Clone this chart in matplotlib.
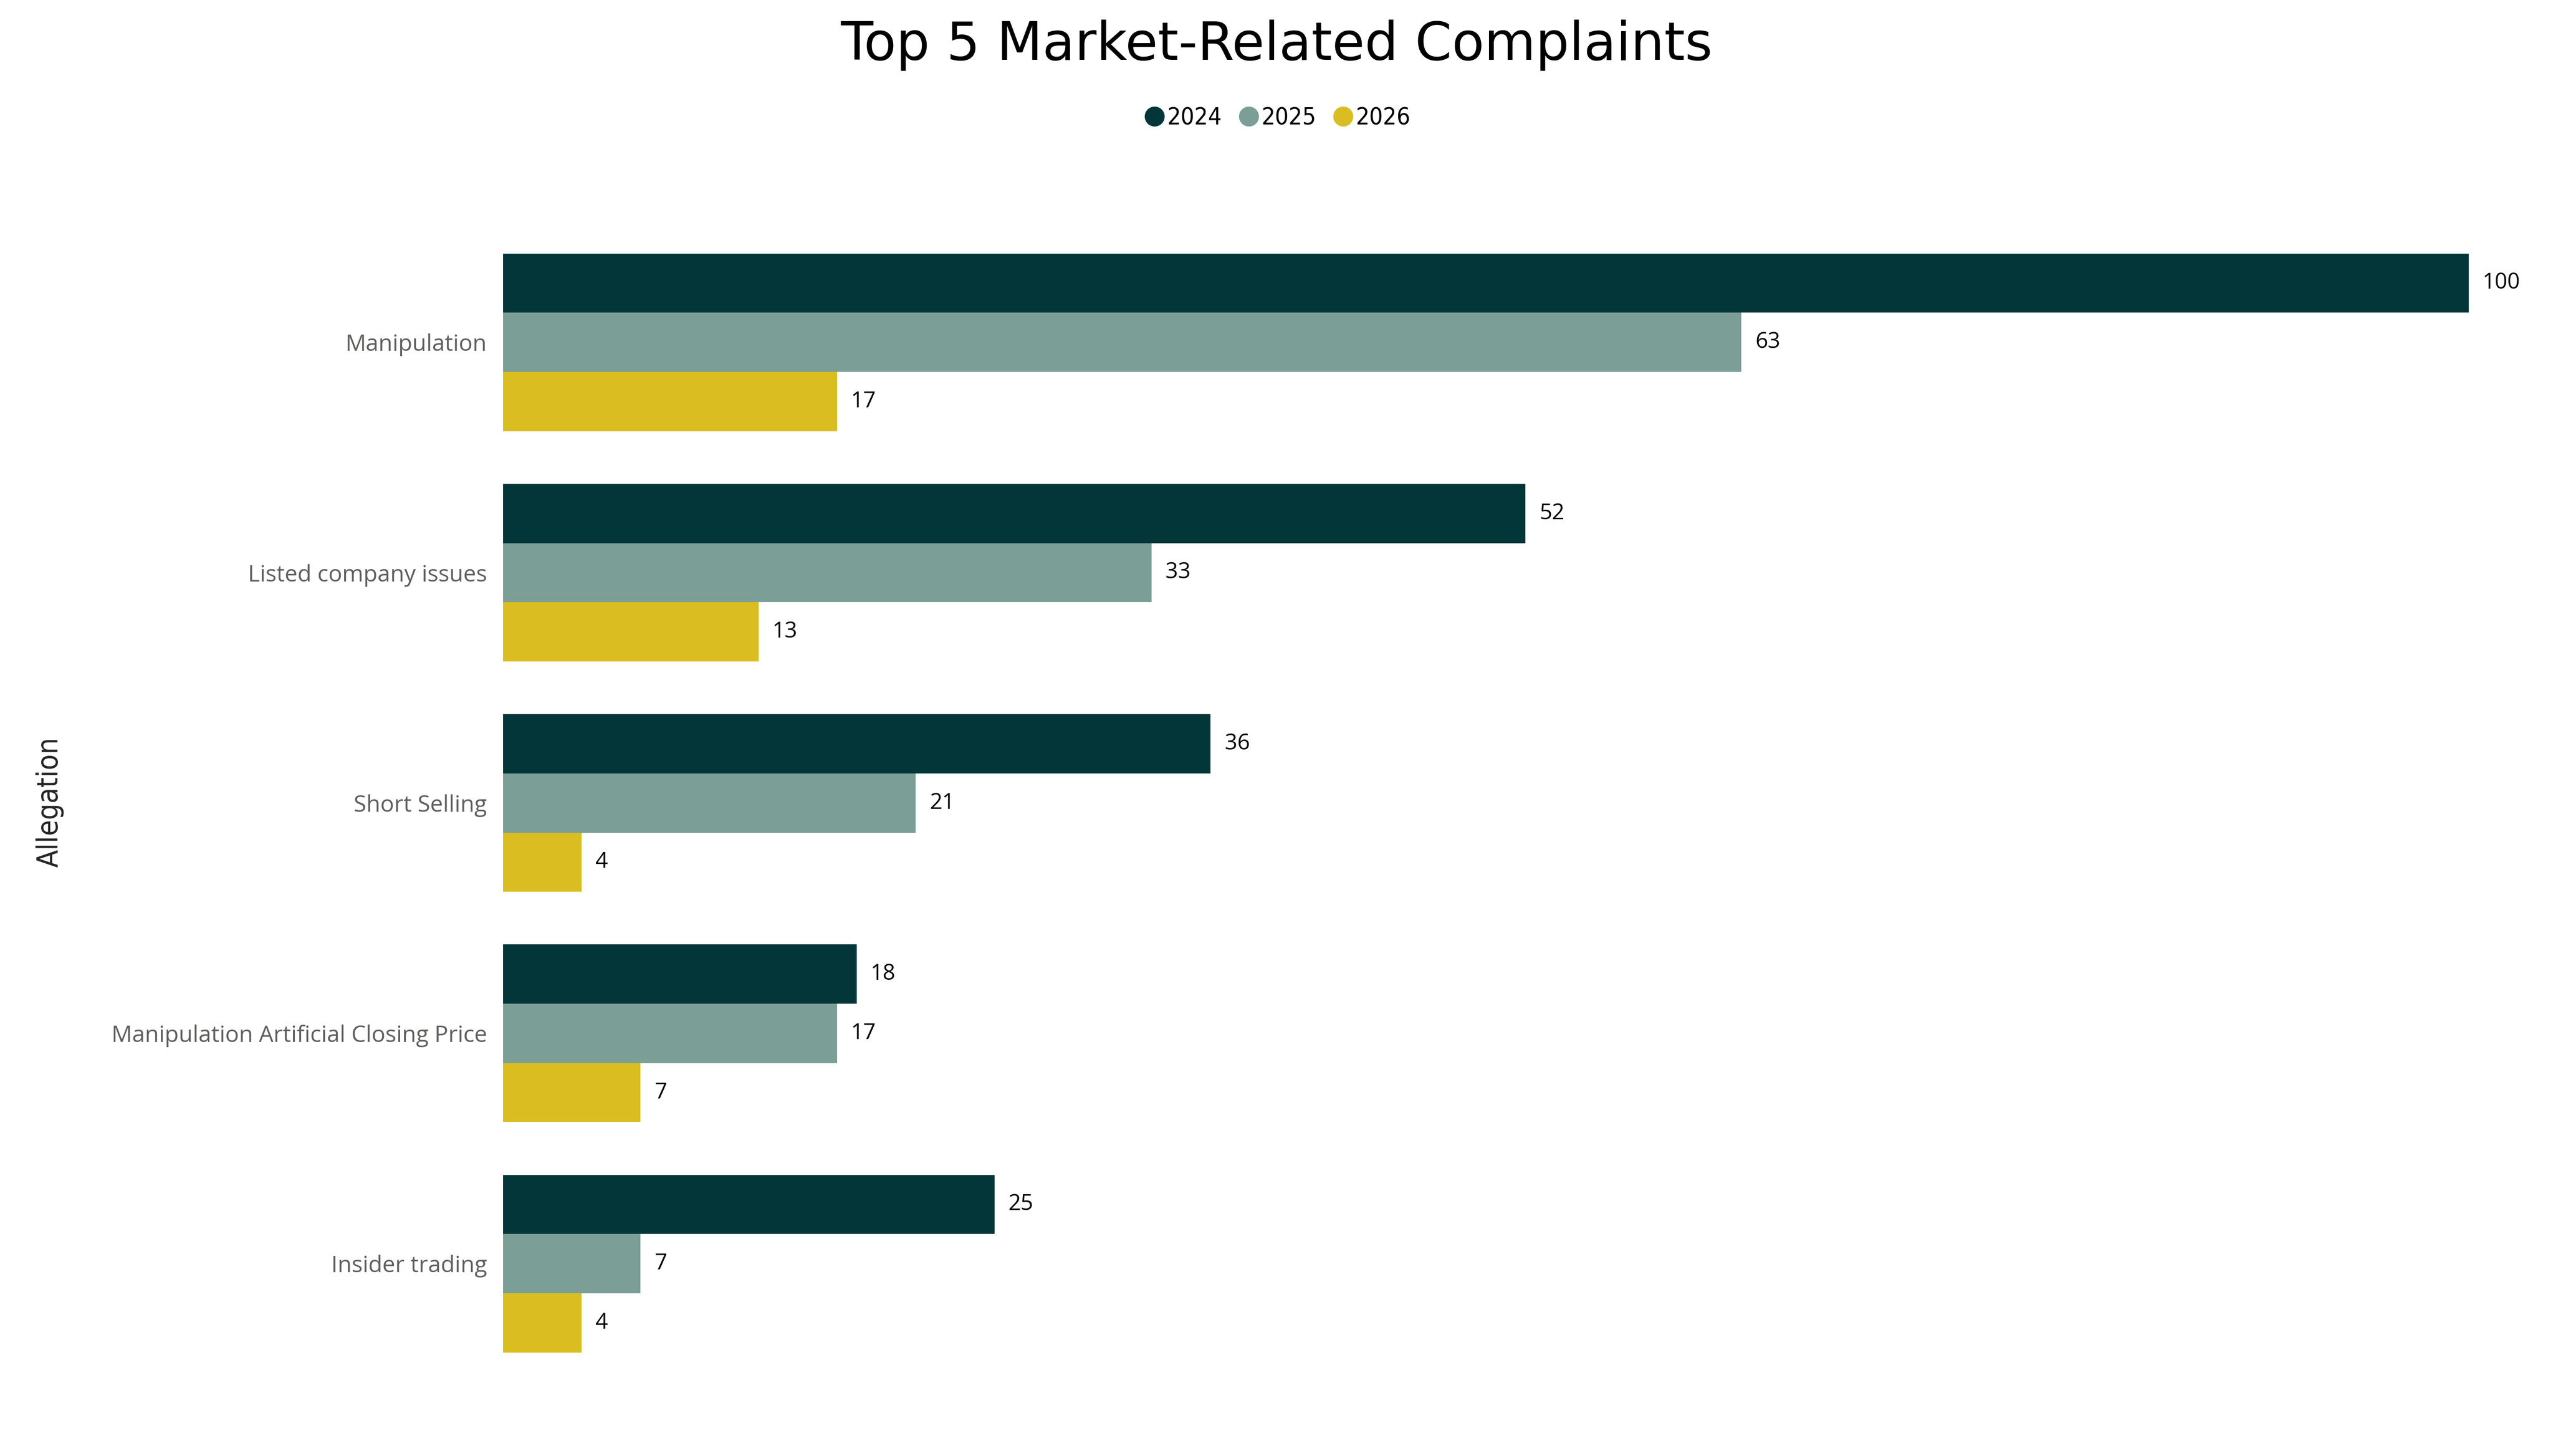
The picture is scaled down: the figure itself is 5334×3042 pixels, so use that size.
import matplotlib
matplotlib.use("Agg")
import matplotlib.pyplot as plt
from matplotlib.lines import Line2D
import numpy as np

# values
allegations = [
    "Manipulation",
    "Listed company issues",
    "Short Selling",
    "Manipulation Artificial Closing Price",
    "Insider trading",
]
years = ["2024", "2025", "2026"]
counts_2024 = [100, 52, 36, 18, 25]
counts_2025 = [63, 33, 21, 17, 7]
counts_2026 = [17, 13, 4, 7, 4]

colors = ["#023638", "#7B9E96", "#DABD20"]
label_font = ["Open Sans", "DejaVu Sans"]

fig = plt.figure(figsize=(5334 / 300, 3042 / 300), dpi=300)
ax = fig.add_axes([0.197, 0.053, 0.770, 0.791])

y = np.arange(len(allegations))
bar_h = 0.257
series = [counts_2024, counts_2025, counts_2026]

for i, (vals, col) in enumerate(zip(series, colors)):
    pos = y + (i - 1) * bar_h
    ax.barh(pos, vals, height=bar_h, color=col, linewidth=0)
    for p, v in zip(pos, vals):
        ax.annotate(str(v), xy=(v, p), xytext=(7, 0), textcoords="offset points",
                    ha="left", va="center", fontsize=11, color="black",
                    family=label_font, annotation_clip=False)

ax.set_xlim(0, 100)
ax.set_ylim(len(allegations) - 0.5, -0.5)
ax.set_yticks(y)
ax.set_yticklabels(allegations, fontsize=11.5, color="#605E5C", family=label_font)
ax.tick_params(axis="y", length=0, pad=8)
ax.set_xticks([])
for s in ax.spines.values():
    s.set_visible(False)

fig.text(0.5, 0.969, "Top 5 Market-Related Complaints", ha="center", va="center",
         fontsize=26.5, color="black", family="DejaVu Sans")
fig.text(0.0195, 0.449, "Allegation", rotation=90, ha="center", va="center",
         fontsize=14.5, color="#252423", family="DejaVu Sans", stretch="condensed")

handles = [Line2D([], [], marker="o", linestyle="none", markersize=9,
                  markerfacecolor=c, markeredgecolor=c) for c in colors]
leg = fig.legend(handles, years, loc="center", bbox_to_anchor=(0.5, 0.919), ncol=3,
                 frameon=False, handletextpad=0.05, columnspacing=0.6,
                 handlelength=1.0, prop={"family": "DejaVu Sans", "stretch": "condensed", "size": 12})

fig.savefig("out.png", dpi=300, facecolor="white")
